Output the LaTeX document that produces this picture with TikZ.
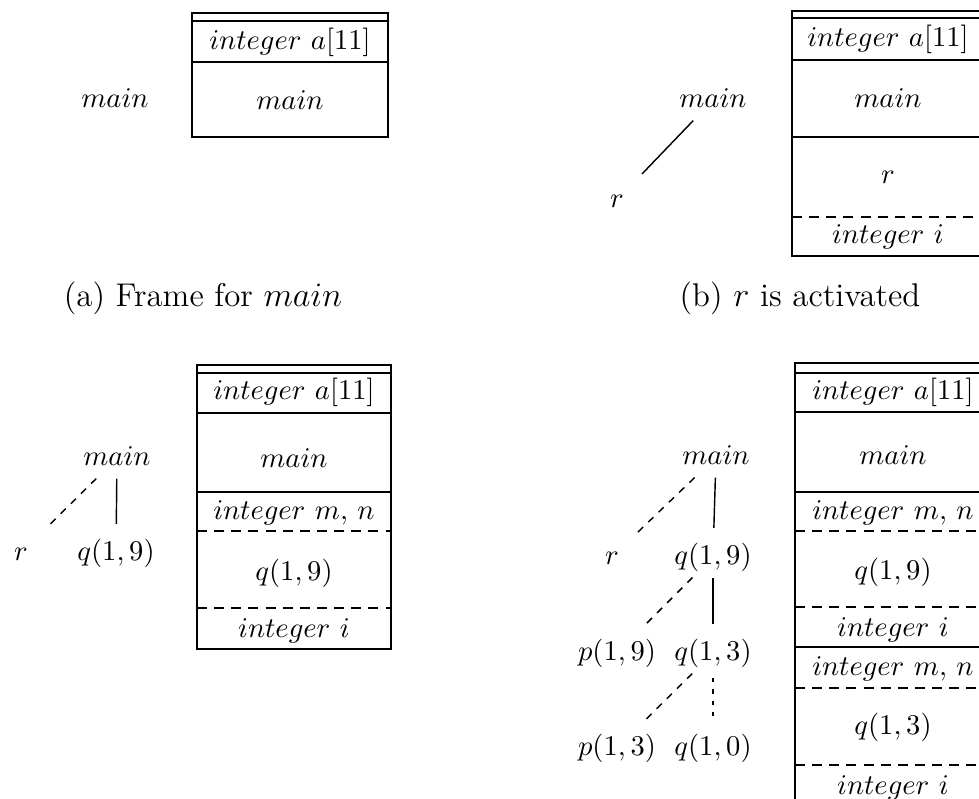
\documentclass[tikz,border=0pt]{standalone}
\usepackage{amsmath}
\usetikzlibrary{positioning}

\begin{document}
\begin{tikzpicture}[x=0.35pt,y=-0.35pt]
  % Define styles for nodes and lines
  \tikzset{
    treenode/.style={inner sep=2pt, text height=7.5pt, text depth=2.5pt},
    cellnode/.style={inner sep=1pt},
    caption/.style={font=\fontsize{11.5}{14}\selectfont},
    frameline/.style={line width=0.6pt},
    cellsep/.style={line width=0.5pt, dash pattern=on 3.5pt off 2.5pt},
    calledge/.style={line width=0.5pt, shorten >=3pt},
    pendedge/.style={line width=0.5pt, dash pattern=on 2.5pt off 2.5pt, shorten >=3pt},
    dotedge/.style={line width=0.6pt, dash pattern=on 1.5pt off 2.5pt, shorten <=1.5pt, shorten >=1.5pt}
  }
  \useasboundingbox (0,0) rectangle (979,799);
  \clip (0,0) rectangle (979,799);

  % (a) frame for main
  \draw[frameline] (192,13) rectangle (388,137);
  \draw[frameline] (192,21) -- (388,21);
  \draw[frameline] (192,62) -- (388,62);
  \node[cellnode] (aint) at (290,42) {$integer\ a[11]$};
  \node[cellnode] (amain) at (290,100) {$main$};
  \node[treenode] (atmain) at (115,100) {$main$};
  \node[caption] (acap) at (203,298) {(a) Frame for $main$};

  % (b) r is activated
  \draw[frameline] (792,11) rectangle (990,256);
  \draw[frameline] (792,18) -- (990,18);
  \draw[frameline] (792,60) -- (990,60);
  \draw[frameline] (792,137) -- (990,137);
  \draw[cellsep] (792,217) -- (990,217);
  \node[cellnode] (bint) at (888,39) {$integer\ a[11]$};
  \node[cellnode] (bmain) at (888,98) {$main$};
  \node[cellnode] (br) at (888,177) {$r$};
  \node[cellnode] (bi) at (888,237) {$integer\ i$};
  \node[treenode] (btmain) at (713,100) {$main$};
  \node[treenode] (btr) at (617,200) {$r$};
  \draw[calledge, shorten >=6pt] (btmain) -- (btr);
  \node[caption] (bcap) at (800,298) {(b) $r$ is activated};

  % (c) r has been popped and q(1,9) pushed
  \draw[frameline] (197,365) rectangle (391,649);
  \draw[frameline] (197,373) -- (391,373);
  \draw[frameline] (197,413) -- (391,413);
  \draw[frameline] (197,492) -- (391,492);
  \draw[cellsep] (197,531) -- (391,531);
  \draw[cellsep] (197,608) -- (391,608);
  \node[cellnode] (cint) at (294,392) {$integer\ a[11]$};
  \node[cellnode] (cmain) at (294,458) {$main$};
  \node[cellnode] (cmn) at (294,513) {$integer\ m,\, n$};
  \node[cellnode] (cq19) at (294,573) {$q(1,9)$};
  \node[cellnode] (ci) at (294,631) {$integer\ i$};
  \node[treenode] (ctmain) at (117,458) {$main$};
  \node[treenode] (ctr) at (21,553) {$r$};
  \node[treenode] (ctq19) at (116,553) {$q(1,9)$};
  \draw[calledge] (ctmain) -- (ctq19);
  \draw[pendedge, shorten >=6pt] (ctmain) -- (ctr);

  % (d) control returns to q(1,3)
  \draw[frameline] (795,363) rectangle (993,830);
  \draw[frameline] (795,373) -- (993,373);
  \draw[frameline] (795,412) -- (993,412);
  \draw[frameline] (795,492) -- (993,492);
  \draw[cellsep] (795,531) -- (993,531);
  \draw[cellsep] (795,607) -- (993,607);
  \draw[frameline] (795,647) -- (993,647);
  \draw[cellsep] (795,688) -- (993,688);
  \draw[cellsep] (795,765) -- (993,765);
  \node[cellnode] (dint) at (893,392) {$integer\ a[11]$};
  \node[cellnode] (dmain) at (893,455) {$main$};
  \node[cellnode] (dmn1) at (893,513) {$integer\ m,\, n$};
  \node[cellnode] (dq19) at (893,572) {$q(1,9)$};
  \node[cellnode] (di1) at (893,630) {$integer\ i$};
  \node[cellnode] (dmn2) at (893,669) {$integer\ m,\, n$};
  \node[cellnode] (dq13) at (893,727) {$q(1,3)$};
  \node[cellnode] (di2) at (893,788) {$integer\ i$};
  \node[treenode] (dtmain) at (716,457) {$main$};
  \node[treenode] (dtr) at (612,557) {$r$};
  \node[treenode] (dtq19) at (713,557) {$q(1,9)$};
  \node[treenode] (dtp19) at (617,653) {$p(1,9)$};
  \node[treenode] (dtq13) at (713,653) {$q(1,3)$};
  \node[treenode] (dtp13) at (617,748) {$p(1,3)$};
  \node[treenode] (dtq10) at (713,748) {$q(1,0)$};
  \draw[calledge] (dtmain) -- (dtq19);
  \draw[pendedge, shorten >=6pt] (dtmain) -- (dtr);
  \draw[calledge] (dtq19) -- (dtq13);
  \draw[pendedge] (dtq19) -- (dtp19);
  \draw[dotedge] (dtq13) -- (dtq10);
  \draw[pendedge] (dtq13) -- (dtp13);
\end{tikzpicture}
\end{document}
